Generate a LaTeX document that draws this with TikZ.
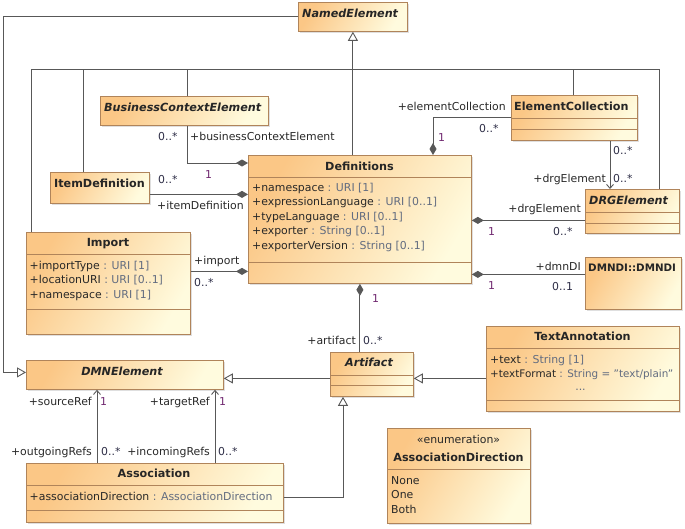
\documentclass[tikz,border=0pt]{standalone}
\usepackage{fontspec}
\setmainfont{DejaVu Sans}
\usepackage{xcolor}
\usetikzlibrary{arrows.meta, shadows}

\definecolor{clsL}{RGB}{251,199,134}
\definecolor{clsR}{RGB}{255,251,222}
\definecolor{clsBorder}{RGB}{176,132,90}
\definecolor{lineC}{RGB}{88,88,88}
\definecolor{typeC}{RGB}{98,108,128}
\definecolor{roleC}{RGB}{40,40,40}
\definecolor{multC}{RGB}{45,45,70}
\definecolor{oneC}{RGB}{112,40,112}
\newcommand{\umlattr}[2]{#1\ \textcolor{typeC}{: #2}}

\begin{document}
\begin{tikzpicture}[x=1pt, y=-1pt,
    cls/.style={draw=clsBorder, line width=0.8pt, top color=clsL, bottom color=clsR, shading angle=60,
        anchor=north west, inner sep=0pt,
        drop shadow={opacity=0.25, shadow xshift=2pt, shadow yshift=-2pt}},
    sep/.style={draw=clsBorder, line width=0.8pt},
    ttl/.style={font=\fontsize{11.2}{13}\selectfont\bfseries, text=black!85, inner sep=0pt, text height=8pt, text depth=0pt},
    abst/.style={ttl, font=\fontsize{11.2}{13}\selectfont\bfseries\itshape},
    attr/.style={font=\fontsize{10.9}{14.5}\selectfont, text=roleC, align=left, anchor=north west, inner sep=0pt},
    role/.style={font=\fontsize{10.9}{13}\selectfont, text=roleC, inner sep=0pt, text height=8pt, text depth=0pt, anchor=west},
    rrole/.style={role, anchor=east},
    mult/.style={role, text=multC},
    one/.style={role, text=oneC},
    link/.style={draw=lineC, line width=0.9pt},
    gen/.style={link, -{Triangle[open, length=9pt, width=10pt]}},
    comp/.style={link, {Diamond[length=12pt, width=7pt]}-},
    nav/.style={link, -{Straight Barb[length=4pt, width=7pt]}},
]
\useasboundingbox (0,0) rectangle (685,528);

% classes
\node[cls, minimum width=109pt, minimum height=29pt] (named) at (298,2) {};
\node[cls, minimum width=168pt, minimum height=29pt] (bce) at (100,96) {};
\node[cls, minimum width=126pt, minimum height=45pt] (ecoll) at (511,95) {};
\node[cls, minimum width=99pt, minimum height=31pt] (itemdef) at (50,172) {};
\node[cls, minimum width=223pt, minimum height=128pt] (defs) at (248,155) {};
\node[cls, minimum width=94pt, minimum height=44pt] (drg) at (585,189) {};
\node[cls, minimum width=96pt, minimum height=52pt] (dmndi) at (585,257) {};
\node[cls, minimum width=164pt, minimum height=102pt] (import) at (26,232) {};
\node[cls, minimum width=193pt, minimum height=85pt] (textann) at (486,326) {};
\node[cls, minimum width=83pt, minimum height=44pt] (artifact) at (330,352) {};
\node[cls, minimum width=143pt, minimum height=95pt] (enum) at (387,428) {};
\node[cls, minimum width=197pt, minimum height=29pt] (dmn) at (26,360) {};
\node[cls, minimum width=257pt, minimum height=59pt] (assoc) at (26,463) {};

% compartments
\draw[sep] ([yshift=-23pt]ecoll.north west) -- ([yshift=-23pt]ecoll.north east);
\draw[sep] ([yshift=-34pt]ecoll.north west) -- ([yshift=-34pt]ecoll.north east);
\draw[sep] ([yshift=-22pt]defs.north west) -- ([yshift=-22pt]defs.north east);
\draw[sep] ([yshift=-107pt]defs.north west) -- ([yshift=-107pt]defs.north east);
\draw[sep] ([yshift=-23pt]drg.north west) -- ([yshift=-23pt]drg.north east);
\draw[sep] ([yshift=-34pt]drg.north west) -- ([yshift=-34pt]drg.north east);
\draw[sep] ([yshift=-22pt]import.north west) -- ([yshift=-22pt]import.north east);
\draw[sep] ([yshift=-77pt]import.north west) -- ([yshift=-77pt]import.north east);
\draw[sep] ([yshift=-22pt]textann.north west) -- ([yshift=-22pt]textann.north east);
\draw[sep] ([yshift=-74pt]textann.north west) -- ([yshift=-74pt]textann.north east);
\draw[sep] ([yshift=-23pt]artifact.north west) -- ([yshift=-23pt]artifact.north east);
\draw[sep] ([yshift=-33pt]artifact.north west) -- ([yshift=-33pt]artifact.north east);
\draw[sep] ([yshift=-41pt]enum.north west) -- ([yshift=-41pt]enum.north east);
\draw[sep] ([yshift=-22pt]assoc.north west) -- ([yshift=-22pt]assoc.north east);
\draw[sep] ([yshift=-47pt]assoc.north west) -- ([yshift=-47pt]assoc.north east);

% titles
\node[abst, anchor=west] (namedT) at (302,13) {NamedElement};
\node[abst, anchor=west] (bceT) at (104,107) {BusinessContextElement};
\node[ttl, anchor=west] (ecollT) at (514,106) {ElementCollection};
\node[ttl, anchor=west] (itemdefT) at (54,183) {ItemDefinition};
\node[ttl] (defsT) at (359.5,166.5) {Definitions};
\node[abst, anchor=west] (drgT) at (589,200) {DRGElement};
\node[ttl, anchor=west, font=\fontsize{10.3}{13}\selectfont\bfseries] (dmndiT) at (588,267.7) {DMNDI::DMNDI};
\node[ttl] (importT) at (108,242) {Import};
\node[ttl] (textannT) at (582.5,336.7) {TextAnnotation};
\node[abst] (artifactT) at (369,362.5) {Artifact};
\node[role, anchor=center, text=roleC] (enumS) at (458.5,439) {«enumeration»};
\node[ttl] (enumT) at (458.5,457) {AssociationDirection};
\node[abst] (dmnT) at (122,371) {DMNElement};
\node[ttl] (assocT) at (154,473) {Association};

% attributes
\node[attr] (defsA) at (252,182.7) {\umlattr{+namespace}{URI [1]}\\
    \umlattr{+expressionLanguage}{URI [0..1]}\\
    \umlattr{+typeLanguage}{URI [0..1]}\\
    \umlattr{+exporter}{String [0..1]}\\
    \umlattr{+exporterVersion}{String [0..1]}};
\node[attr] (importA) at (29.5,260.7) {\umlattr{+importType}{URI [1]}\\
    \umlattr{+locationURI}{URI [0..1]}\\
    \umlattr{+namespace}{URI [1]}};
\node[attr] (textannA) at (490,354.7) {\umlattr{+text}{String [1]}\\
    {\fontsize{10.4}{14.5}\selectfont\umlattr{+textFormat}{String = \char34 text/plain\char34}}};
\node[attr, anchor=base, text=typeC] (textannD) at (580.5,390) {...};
\node[attr] (assocA) at (29.5,492.2) {\umlattr{+associationDirection}{AssociationDirection}};
\node[attr] (enumA) at (391,476) {None\\One\\Both};

% generalizations
\coordinate (gj) at (352.5,69);
\coordinate (lft) at (3,17);
\draw[gen] (defs.north -| named.south) -- (named.south);
\draw[link] ([xshift=5pt]import.north west) |- (gj);
\draw[link] ([xshift=33pt]itemdef.north west) |- (gj);
\draw[link] ([xshift=87pt]bce.north west) |- (gj);
\draw[link] ([xshift=62pt]ecoll.north west) |- (gj);
\draw[link] ([xshift=74pt]drg.north west) |- (gj);
\draw[gen] (named.west) -- (named.west -| lft) |- ([yshift=2.5pt]dmn.west);
\draw[gen] ([yshift=-4pt]artifact.west) -- ([yshift=-4pt]artifact.west -| dmn.east);
\draw[gen] ([yshift=-4pt]artifact.east -| textann.west) -- ([yshift=-4pt]artifact.east);
\draw[gen] ([yshift=-4.5pt]assoc.east) -| ([xshift=13pt]artifact.south west);

% compositions
\draw[comp] ([yshift=-8pt]defs.north west) -| ([xshift=87pt]bce.south west);
\draw[comp] ([xshift=185pt]defs.north west) |- (ecoll.west);
\draw[comp] ([yshift=-6.5pt]itemdef.east -| defs.west) -- ([yshift=-6.5pt]itemdef.east);
\draw[comp] ([yshift=12pt]import.east -| defs.west) -- ([yshift=12pt]import.east);
\draw[comp] ([yshift=-9pt]drg.west -| defs.east) -- ([yshift=-9pt]drg.west);
\draw[comp] ([yshift=9pt]dmndi.west -| defs.east) -- ([yshift=9pt]dmndi.west);
\draw[comp] (defs.south) -- (defs.south |- artifact.north);

% directed associations
\coordinate (ecS) at ([xshift=99pt]ecoll.south west);
\coordinate (srcS) at ([xshift=71pt]assoc.north west);
\coordinate (tgtS) at ([xshift=189pt]assoc.north west);
\draw[nav] (ecS) -- (ecS |- drg.north);
\draw[nav] (srcS) -- (srcS |- dmn.south);
\draw[nav] (tgtS) -- (tgtS |- dmn.south);

% ends
\node[mult] (m1) at (158,136.7) {0..*};
\node[role] (r1) at (190,136.7) {+businessContextElement};
\node[one] (o1) at (205,174.5) {1};
\node[mult] (m2) at (158,179) {0..*};
\node[role] (r2) at (157,205) {+itemDefinition};
\node[role] (r3) at (194,260) {+import};
\node[mult] (m3) at (194,282) {0..*};
\node[rrole] (r4) at (506,106.3) {+elementCollection};
\node[mult] (m4) at (479,128) {0..*};
\node[one] (o4) at (438,137) {1};
\node[mult] (m5) at (613,150.5) {0..*};
\node[rrole] (r5) at (606,178.7) {+drgElement};
\node[mult] (m6) at (613,178.5) {0..*};
\node[rrole] (r6) at (581,208.7) {+drgElement};
\node[one] (o6) at (488,231) {1};
\node[mult] (m7) at (553,231) {0..*};
\node[rrole] (r7) at (581,266) {+dmnDI};
\node[one] (o7) at (488,285) {1};
\node[mult] (m8) at (552,286) {0..1};
\node[one] (o8) at (372,298.7) {1};
\node[rrole] (r8) at (356,340.5) {+artifact};
\node[mult] (m9) at (363,340.5) {0..*};
\node[rrole] (r9) at (92,401) {+sourceRef};
\node[one] (o9) at (100,401) {1};
\node[rrole] (r10) at (92,451) {+outgoingRefs};
\node[mult] (m10) at (101,451) {0..*};
\node[rrole] (r11) at (210,401) {+targetRef};
\node[one] (o11) at (219,401) {1};
\node[rrole] (r12) at (210,451) {+incomingRefs};
\node[mult] (m12) at (218,451) {0..*};
\end{tikzpicture}
\end{document}
